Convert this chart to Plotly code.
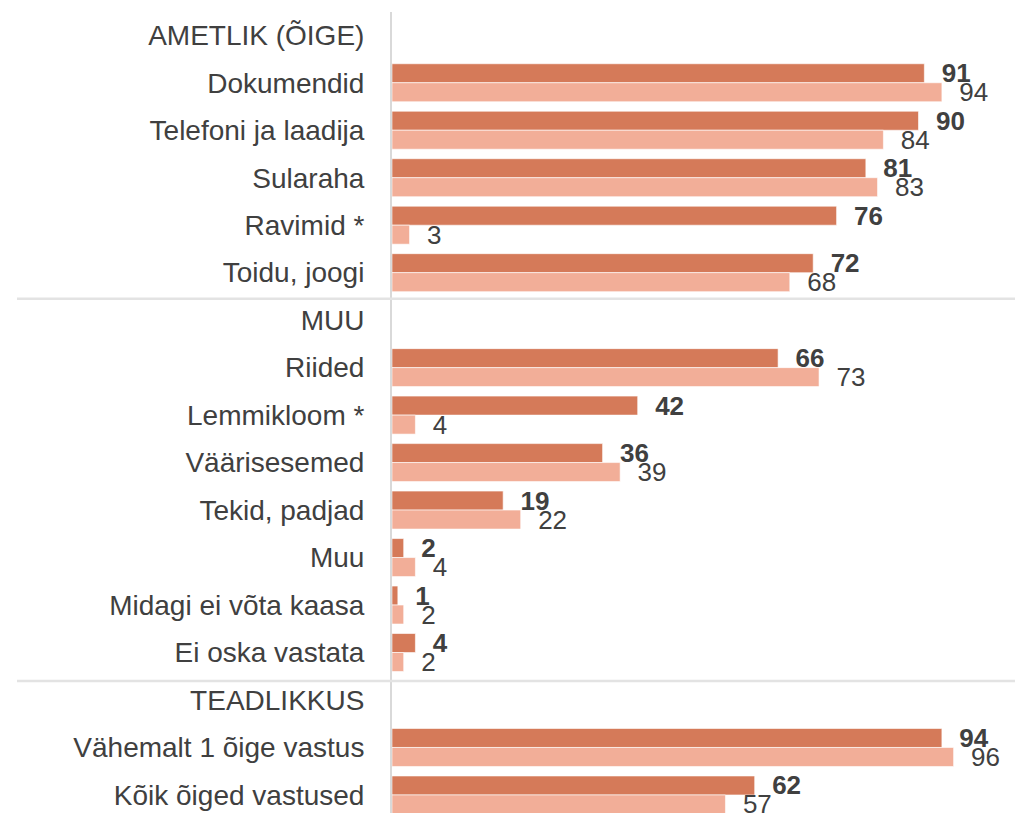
import plotly.graph_objects as go

# rows top to bottom; group headers have no values
categories = [
    "AMETLIK (ÕIGE)", "Dokumendid", "Telefoni ja laadija", "Sularaha", "Ravimid *", "Toidu, joogi",
    "MUU", "Riided", "Lemmikloom *", "Väärisesemed", "Tekid, padjad", "Muu",
    "Midagi ei võta kaasa", "Ei oska vastata",
    "TEADLIKKUS", "Vähemalt 1 õige vastus", "Kõik õiged vastused",
]
series_a = [None, 91, 90, 81, 76, 72, None, 66, 42, 36, 19, 2, 1, 4, None, 94, 62]
series_b = [None, 94, 84, 83, 3, 68, None, 73, 4, 39, 22, 4, 2, 2, None, 96, 57]

# separators between the groups (category positions)
separators = [5.55, 13.6]

DARK = "#D57A59"
LIGHT = "#F2AE98"
TEXT = "#404040"
FONT = "Liberation Sans, Arial, sans-serif"


def make_bar(values, color, bold):
    weight = "bold" if bold else "normal"
    return go.Bar(
        y=categories, x=values, orientation="h",
        marker=dict(color=color, line=dict(color="white", width=0.6)),
        texttemplate="\u00a0\u00a0%{x}", textposition="outside",
        constraintext="none",
        textfont=dict(family=FONT, size=26, color=TEXT, weight=weight),
        cliponaxis=False, showlegend=False,
    )


fig = go.Figure()
fig.add_trace(make_bar(series_a, DARK, True))
fig.add_trace(make_bar(series_b, LIGHT, False))

for pos in separators:
    fig.add_shape(
        type="line", xref="paper", yref="y",
        x0=-0.641, x1=1.12, y0=pos, y1=pos,
        line=dict(color="#E3E3E3", width=2.5),
    )

# page body adds an 8px offset, so margins are shifted to compensate
fig.update_layout(
    width=1023, height=813,
    margin=dict(l=384, r=54, t=4, b=8),
    plot_bgcolor="white", paper_bgcolor="white",
    barmode="group", bargap=0.2, bargroupgap=0,
    font=dict(family=FONT, color=TEXT),
)
fig.update_xaxes(range=[0, 100], visible=False, showgrid=False, zeroline=False)
fig.update_yaxes(
    categoryorder="array", categoryarray=categories,
    range=[16.38, -0.49], showgrid=False, zeroline=False,
    showline=True, linecolor="#D9D9D9", linewidth=2,
    ticks="outside", ticklen=0, ticklabelstandoff=20,
    tickfont=dict(family=FONT, size=28, color=TEXT),
)

fig.write_html("out.html")
